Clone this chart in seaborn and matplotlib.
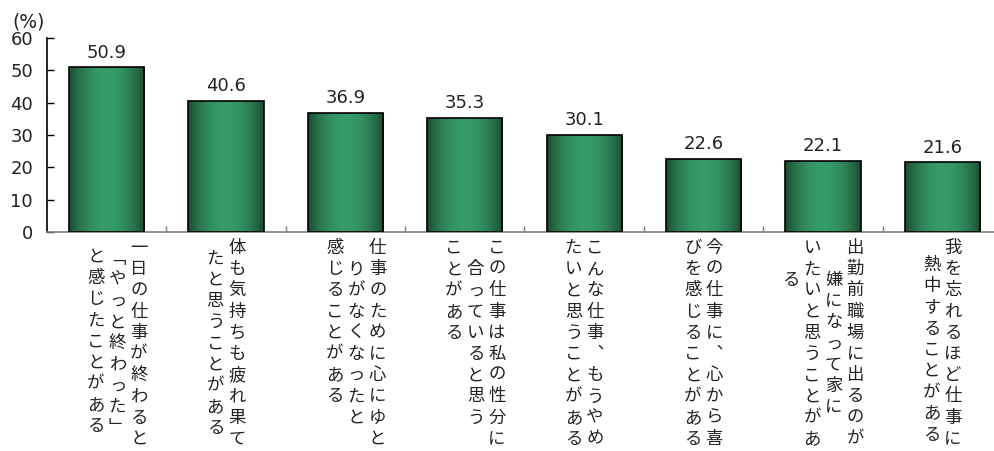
import numpy as np
import pandas as pd
import matplotlib
matplotlib.use("Agg")
import matplotlib.pyplot as plt
import seaborn as sns

# ---------------- data ----------------
label_columns = [
    ["一日の仕事が終わると", "「やっと終わった」", "と感じたことがある"],
    ["体も気持ちも疲れ果て", "たと思うことがある"],
    ["仕事のために心にゆと", "りがなくなったと", "感じることがある"],
    ["この仕事は私の性分に", "合っていると思う", "ことがある"],
    ["こんな仕事、もうやめ", "たいと思うことがある"],
    ["今の仕事に、心から喜", "びを感じることがある"],
    ["出勤前職場に出るのが", "嫌になって家に", "いたいと思うことがあ", "る"],
    ["我を忘れるほど仕事に", "熱中することがある"],
]
categories = ["".join(c) for c in label_columns]
values = [50.9, 40.6, 36.9, 35.3, 30.1, 22.6, 22.1, 21.6]
yticks = [0, 10, 20, 30, 40, 50, 60]
unit_label = "(%)"

# ---------------- layout / style ----------------
col_slots = [4, 2, 4, 4, 2, 2, 4, 2]
row_offsets = [[0, 0.5, 0.4], [0, 0.5], [0, 1, 0], [0, 1, 0],
               [0, 0], [0, 0], [0, 1.5, 0, 1.5], [0, 0.8]]
vert_map = {"「": "\ufe41", "」": "\ufe42", "、": "\ufe11"}
dark = np.array([0.10, 0.28, 0.18])
light = np.array([0.21, 0.61, 0.41])
num_font = ["DejaVu Sans"]
txt_color = "#222222"

sns.set_theme(style="white")
plt.rcParams["font.family"] = ["Noto Sans CJK JP", "DejaVu Sans"]

fig = plt.figure(figsize=(9.95, 4.51), dpi=100)
ax = fig.add_axes([47 / 995, (451 - 232) / 451, 955 / 995, 194 / 451])

df = pd.DataFrame({"cat": categories, "val": values})
sns.barplot(data=df, x="cat", y="val", ax=ax, width=0.63,
            color="#2e8b57", edgecolor="black", linewidth=1.2, saturation=1)

ax.set_xlim(-0.5, 7.5)
ax.set_ylim(0, 60)

# gradient fill
t = np.linspace(0, 1, 256)
f = np.clip(np.sin(np.pi * t), 0, 1) ** 0.8
grad = dark[None, :] + (light - dark)[None, :] * f[:, None]
grad = grad[None, :, :]
for p in list(ax.patches):
    x0, y0 = p.get_x(), p.get_y()
    w, h = p.get_width(), p.get_height()
    p.set_facecolor("none")
    p.set_zorder(3)
    im = ax.imshow(grad, extent=[x0, x0 + w, y0, y0 + h], aspect="auto",
                   zorder=2, interpolation="bilinear")
    im.set_clip_path(p)
ax.set_xlim(-0.5, 7.5)
ax.set_ylim(0, 60)

# value labels
for i, v in enumerate(values):
    ax.annotate(f"{v:.1f}", xy=(i, v), xytext=(0, 4), textcoords="offset points",
                ha="center", va="bottom", fontsize=13, color=txt_color,
                family=num_font)

# axes styling
ax.set_xlabel("")
ax.set_ylabel("")
ax.set_yticks(yticks)
ax.set_yticklabels([str(y) for y in yticks], fontsize=13, color=txt_color,
                   family=num_font)
ax.tick_params(axis="y", direction="in", length=5, width=1, color="black", pad=10, left=True)
ax.set_xticks(np.arange(0.5, 7.5, 1.0))
ax.set_xticklabels([])
ax.tick_params(axis="x", direction="in", length=4, width=1, color="#808080", bottom=True)
for s in ["top", "right"]:
    ax.spines[s].set_visible(False)
ax.spines["left"].set_color("black")
ax.spines["left"].set_linewidth(1.2)
ax.spines["bottom"].set_color("#808080")
ax.spines["bottom"].set_linewidth(1.2)

# vertical category labels
px = 0.72  # points per pixel at 100 dpi
col_w = 21.5
row_h = 21.2
for i, cols in enumerate(label_columns):
    n = col_slots[i]
    for j, col in enumerate(cols):
        dx = ((n - 1) / 2 - j) * col_w
        for r, ch in enumerate(col):
            dy = -(16 + (r + row_offsets[i][j]) * row_h)
            ch2 = vert_map.get(ch, ch)
            ax.annotate(ch2, xy=(i, 0), xycoords="data",
                        xytext=(dx * px, dy * px), textcoords="offset points",
                        ha="center", va="center", fontsize=12.5, color=txt_color,
                        annotation_clip=False)

fig.text(12 / 995, 1 - 22 / 451, unit_label, fontsize=13.5, color=txt_color,
         ha="left", va="center", family=num_font)

fig.savefig("out.png", dpi=100)
